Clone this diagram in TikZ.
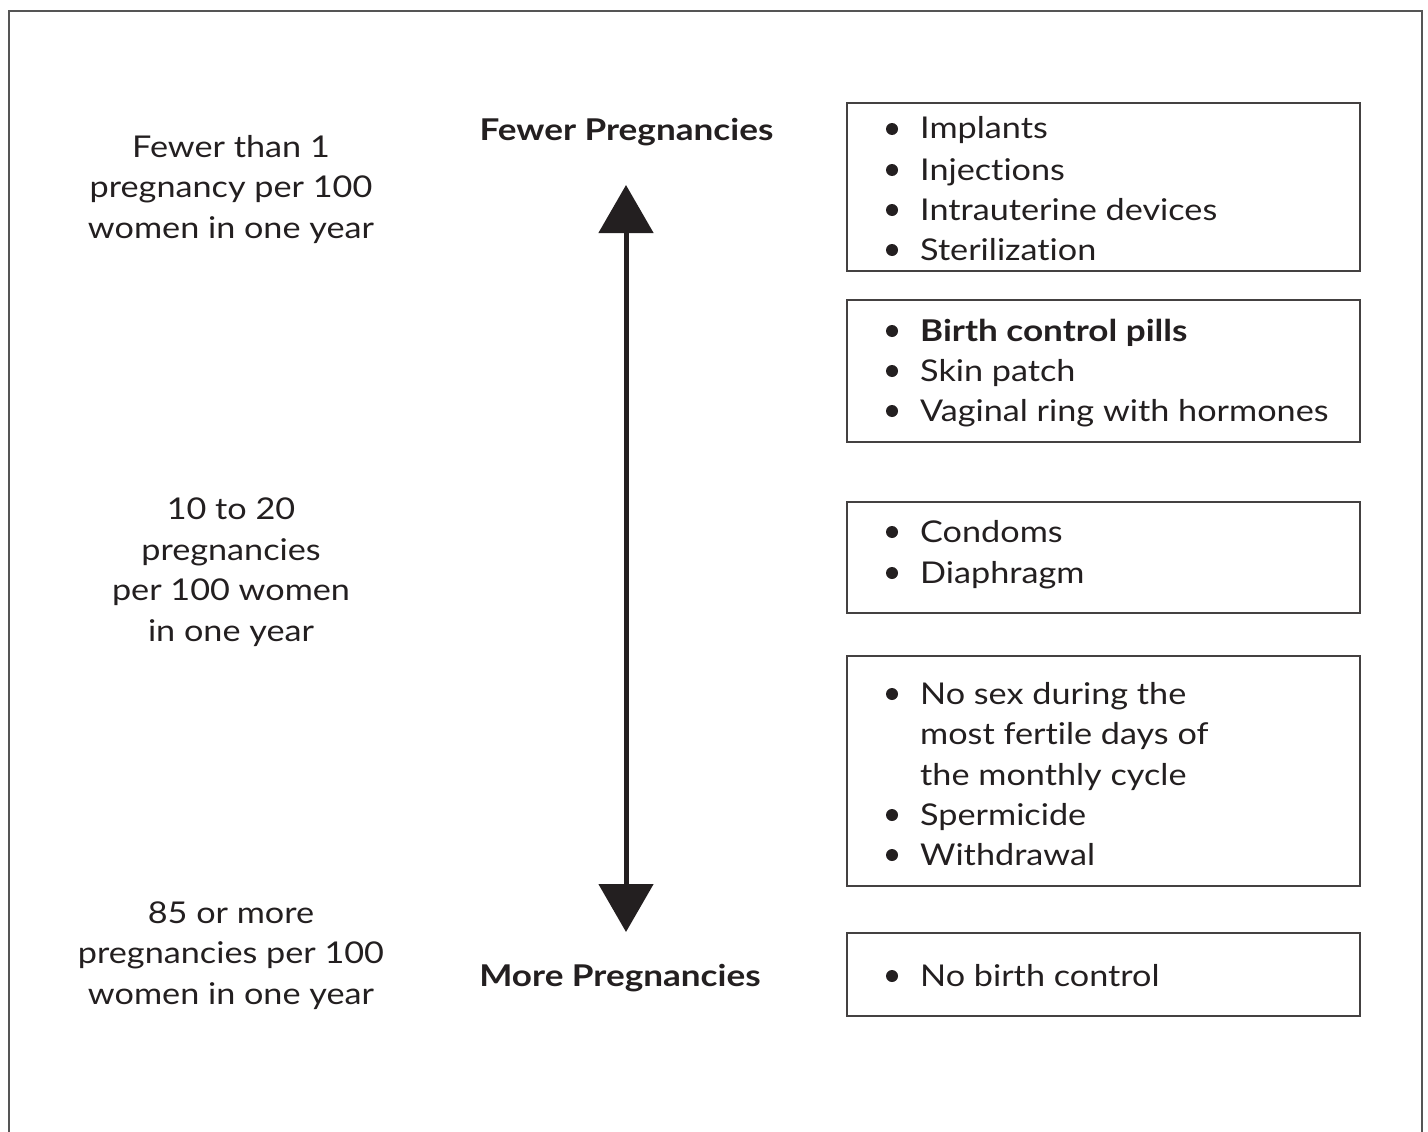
\documentclass[tikz,border=0pt]{standalone}
\usepackage{fontspec}
\setmainfont{Lato}[FakeStretch=1.14, Ligatures=NoCommon, BoldFeatures={FakeStretch=1.17}]
\usetikzlibrary{arrows.meta}
\definecolor{ink}{HTML}{231F20}
\definecolor{framegray}{HTML}{555555}
\tikzset{
  txt/.style={anchor=base, inner sep=0pt, text=ink, font=\fontsize{30}{40}\selectfont},
  hdr/.style={anchor=base, inner sep=0pt, text=ink, font=\fontsize{30}{40}\selectfont\bfseries},
  item/.style={anchor=base west, inner sep=0pt, text=ink, font=\fontsize{30}{40}\selectfont},
  dot/.style={circle, fill=ink, inner sep=0pt, minimum size=12pt},
  box/.style={draw=ink!85, line width=1.8pt, inner sep=0pt},
  outer/.style={draw=framegray, line width=2pt},
  scalearrow/.style={line width=5pt, draw=ink, {Triangle[length=48pt,width=54pt]}-{Triangle[length=48pt,width=54pt]}}
}
\newcommand{\bitem}[4]{% name, y-baseline, text, bullet?
  \node[item] (#1) at (920,#2) {#3};
  \ifx\relax#4\relax\else\node[dot] (#1d) at (892,#2-10) {};\fi
}
\begin{document}
\begin{tikzpicture}[x=1pt,y=-1pt]
\useasboundingbox (0,0) rectangle (1428,1132);
\draw[outer] (9,1134) -- (9,11) -- (1422,11) -- (1422,1134);

% left column
\node[txt] (l1a) at (231,157) {Fewer than 1};
\node[txt] (l1b) at (231,197.5) {pregnancy per 100};
\node[txt] (l1c) at (231,238) {women in one year};
\node[txt] (l2a) at (231,519) {10 to 20};
\node[txt] (l2b) at (231,560) {pregnancies};
\node[txt] (l2c) at (231,600) {per 100 women};
\node[txt] (l2d) at (231,641) {in one year};
\node[txt] (l3a) at (231,923) {85 or more};
\node[txt] (l3b) at (231,963) {pregnancies per 100};
\node[txt] (l3c) at (231,1004) {women in one year};

% headers and scale
\node[hdr] (fewer) at (626.5,140) {Fewer Pregnancies};
\node[hdr] (more) at (620,986) {More Pregnancies};
\coordinate (top) at (626,185);
\coordinate (bot) at (626,932);
\draw[scalearrow] (bot) -- (top);

% boxes
\node[box, minimum width=513pt, minimum height=168pt] (b1) at (1103.5,187) {};
\node[box, minimum width=513pt, minimum height=142pt] (b2) at (1103.5,371) {};
\node[box, minimum width=513pt, minimum height=111pt] (b3) at (1103.5,557.5) {};
\node[box, minimum width=513pt, minimum height=230pt] (b4) at (1103.5,771) {};
\node[box, minimum width=513pt, minimum height=83pt] (b5) at (1103.5,974.5) {};

% box texts
\bitem{i1}{139}{Implants}{x}
\bitem{i2}{180}{Injections}{x}
\bitem{i3}{220}{Intrauterine devices}{x}
\bitem{i4}{260}{Sterilization}{x}
\bitem{j1}{341}{\bfseries Birth control pills}{x}
\bitem{j2}{381}{Skin patch}{x}
\bitem{j3}{421}{Vaginal ring with hormones}{x}
\bitem{k1}{542}{Condoms}{x}
\bitem{k2}{583}{Diaphragm}{x}
\bitem{m1}{704}{No sex during the}{x}
\bitem{m2}{744}{most fertile days of}{}
\bitem{m3}{785}{the monthly cycle}{}
\bitem{m4}{825}{Spermicide}{x}
\bitem{m5}{865}{Withdrawal}{x}
\bitem{n1}{986}{No birth control}{x}
\end{tikzpicture}
\end{document}
